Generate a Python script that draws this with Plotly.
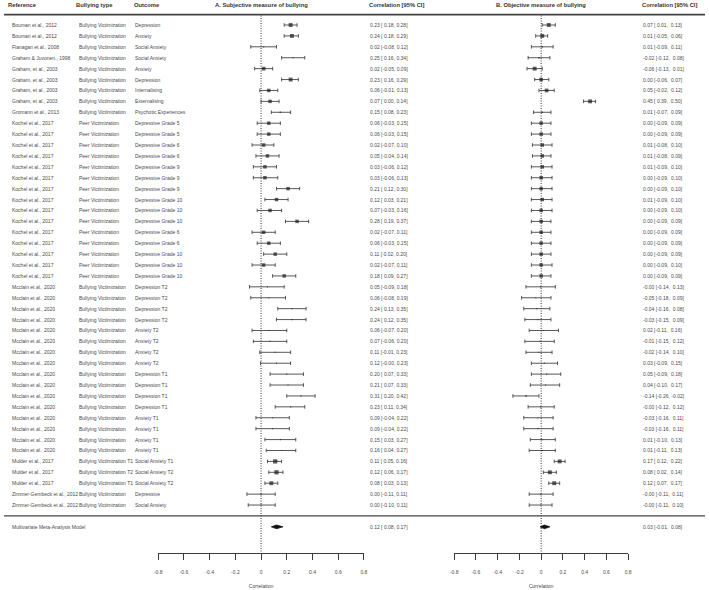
import math
import plotly.graph_objects as go

references = [
    "Bouman et al., 2012", "Bouman et al., 2012", "Flanagan et al., 2008",
    "Graham & Juvonen., 1998", "Graham, et al., 2003", "Graham, et al., 2003",
    "Graham, et al., 2003", "Graham, et al., 2003", "Gromann et al., 2013",
] + ["Kochel et al., 2017"] * 15 + ["Mcclain et al., 2020"] * 16 + [
    "Mulder et al., 2017", "Mulder et al., 2017", "Mulder et al., 2017",
    "Zimmer-Gembeck et al., 2012", "Zimmer-Gembeck et al., 2012",
]

bullying_types = (["Bullying Victimization"] * 9 + ["Peer Victimization"] * 15
                  + ["Bullying Victimization"] * 16
                  + ["Bullying Victimization T1", "Bullying Victimization T2",
                     "Bullying Victimization T1", "Bullying Victimization",
                     "Bullying Victimization"])

outcomes = [
    "Depression", "Anxiety", "Social Anxiety", "Social Anxiety", "Anxiety",
    "Depression", "Internalising", "Externalising", "Psychotic Experiences",
    "Depressive Grade 5", "Depressive Grade 5", "Depressive Grade 6",
    "Depressive Grade 6", "Depressive Grade 9", "Depressive Grade 9",
    "Depressive Grade 9", "Depressive Grade 10", "Depressive Grade 10",
    "Depressive Grade 10", "Depressive Grade 6", "Depressive Grade 6",
    "Depressive Grade 10", "Depressive Grade 10", "Depressive Grade 10",
    "Depression T2", "Depression T2", "Depression T2", "Depression T2",
    "Anxiety T2", "Anxiety T2", "Anxiety T2", "Anxiety T2",
    "Depression T1", "Depression T1", "Depression T1", "Depression T1",
    "Anxiety T1", "Anxiety T1", "Anxiety T1", "Anxiety T1",
    "Social Anxiety T1", "Social Anxiety T2", "Social Anxiety T2",
    "Depressive", "Social Anxiety",
]

# A. Subjective measure of bullying
est_a = [0.23, 0.24, 0.02, 0.25, 0.02, 0.23, 0.06, 0.07, 0.15,
         0.06, 0.06, 0.02, 0.05, 0.03, 0.03, 0.21, 0.12, 0.07, 0.28, 0.02,
         0.06, 0.11, 0.02, 0.18,
         0.05, 0.06, 0.24, 0.24, 0.06, 0.07, 0.11, 0.12,
         0.20, 0.21, 0.31, 0.23, 0.09, 0.09, 0.15, 0.16,
         0.11, 0.12, 0.08, 0.00, 0.00]
lo_a = [0.18, 0.18, -0.08, 0.16, -0.05, 0.16, -0.01, 0.00, 0.08,
        -0.03, -0.03, -0.07, -0.04, -0.06, -0.06, 0.12, 0.03, -0.03, 0.19, -0.07,
        -0.03, 0.02, -0.07, 0.09,
        -0.09, -0.08, 0.13, 0.12, -0.07, -0.06, -0.01, -0.004,
        0.07, 0.07, 0.20, 0.11, -0.04, -0.04, 0.03, 0.04,
        0.05, 0.06, 0.03, -0.11, -0.10]
hi_a = [0.28, 0.29, 0.12, 0.34, 0.09, 0.29, 0.13, 0.14, 0.23,
        0.15, 0.15, 0.10, 0.14, 0.12, 0.13, 0.30, 0.21, 0.16, 0.37, 0.11,
        0.15, 0.20, 0.11, 0.27,
        0.18, 0.19, 0.35, 0.35, 0.20, 0.20, 0.23, 0.23,
        0.33, 0.33, 0.42, 0.34, 0.22, 0.22, 0.27, 0.27,
        0.16, 0.17, 0.13, 0.11, 0.11]
weight_a = [9, 9, 0.5, 0.5, 8, 9, 7, 7, 1.0,
            7, 7, 7, 7, 7, 7, 7, 7, 7, 7, 7, 7, 7, 7, 7,
            0.5, 0.5, 0.5, 0.5, 0.5, 0.5, 0.5, 0.5,
            0.5, 0.5, 0.5, 0.5, 0.5, 0.5, 0.5, 0.5,
            11, 11, 9, 0.5, 0.5]

# B. Objective measure of bullying
est_b = [0.07, 0.01, 0.01, -0.02, -0.06, 0.00, 0.05, 0.45, 0.01,
         0.00, 0.00, 0.01, 0.01, 0.01, 0.00, 0.00, 0.01, 0.00, 0.00, 0.00,
         0.00, 0.00, 0.00, 0.00,
         -0.004, -0.05, -0.04, -0.03, 0.02, -0.01, -0.02, 0.03,
         0.05, 0.04, -0.14, -0.004, -0.03, -0.03, 0.01, 0.01,
         0.17, 0.08, 0.12, -0.004, -0.004]
lo_b = [0.01, -0.05, -0.09, -0.12, -0.13, -0.06, -0.02, 0.39, -0.07,
        -0.09, -0.09, -0.08, -0.08, -0.09, -0.09, -0.09, -0.09, -0.09, -0.09, -0.09,
        -0.09, -0.09, -0.09, -0.09,
        -0.14, -0.18, -0.16, -0.15, -0.11, -0.15, -0.14, -0.09,
        -0.09, -0.10, -0.26, -0.12, -0.16, -0.16, -0.10, -0.11,
        0.12, 0.02, 0.07, -0.11, -0.11]
hi_b = [0.13, 0.06, 0.11, 0.08, 0.01, 0.07, 0.12, 0.50, 0.09,
        0.09, 0.09, 0.10, 0.09, 0.10, 0.10, 0.10, 0.10, 0.10, 0.09, 0.09,
        0.09, 0.09, 0.10, 0.09,
        0.13, 0.09, 0.08, 0.09, 0.16, 0.12, 0.10, 0.15,
        0.18, 0.17, -0.02, 0.12, 0.11, 0.11, 0.13, 0.13,
        0.22, 0.14, 0.17, 0.11, 0.10]
weight_b = [9, 9, 1.0, 1.0, 9, 8, 8, 9, 1.0,
            7, 7, 7, 7, 7, 7, 7, 7, 7, 7, 7, 7, 7, 7, 7,
            0.5, 0.5, 0.5, 0.5, 0.5, 0.5, 0.5, 0.5,
            0.5, 0.5, 1.0, 0.5, 0.5, 0.5, 0.5, 0.5,
            9, 9, 9, 0.5, 0.5]

summary_label = "Multivariate Meta-Analysis Model"
summary_a = [0.12, 0.08, 0.17]   # est, lower, upper
summary_b = [0.03, -0.01, 0.08]

tick_vals = [-0.8, -0.6, -0.4, -0.2, 0, 0.2, 0.4, 0.6, 0.8]
tick_labels = ["-0.8", "-0.6", "-0.4", "-0.2", "0", "0.2", "0.4", "0.6", "0.8"]

headers = ["Reference", "Bullying type", "Outcome",
           "A. Subjective measure of bullying", "Correlation [95% CI]",
           "B. Objective measure of bullying", "Correlation [95% CI]"]

# ---------------- layout geometry ----------------
W, H = 709, 590
ROW_PX = 10.91
FIRST_ROW_PX = 25.0
AXIS_PX = 553.3
n = len(references)
rows = list(range(1, n + 1))
sep_row = n + 1
sum_row = n + 2


def px_to_row(p):
    return 1 + (p - FIRST_ROW_PX) / ROW_PX


y_top = px_to_row(0)
y_bot = px_to_row(AXIS_PX)
ydom0 = 1 - AXIS_PX / H

FONT = "Liberation Sans, Arial, sans-serif"
TXT = "#4a4a4a"
HDR = "#333333"
LINE = "#3a3a3a"


def fmt(v):
    s = f"{v:.2f}"
    if s.startswith("-"):
        return s
    return "\u00a0" + s


def ci_text_a(e, l, h):
    return f"{e:.2f} [{fmt(l)}, {h:.2f}]"


def ci_text_b(e, l, h):
    return f"{e:.2f} [{fmt(l)}, {fmt(h)}]"


def msize(w):
    return 1.2 * math.sqrt(w) + 0.3


fig = go.Figure()

for xa, est, lo, hi, wt, summ in [("x", est_a, lo_a, hi_a, weight_a, summary_a),
                                  ("x2", est_b, lo_b, hi_b, weight_b, summary_b)]:
    fig.add_trace(go.Scatter(
        x=est, y=rows, xaxis=xa, yaxis="y", mode="markers",
        marker=dict(symbol="square", size=[msize(w) for w in wt], color="#1a1a1a",
                    line=dict(width=0)),
        error_x=dict(type="data", symmetric=False,
                     array=[h - e for e, h in zip(est, hi)],
                     arrayminus=[e - l for e, l in zip(est, lo)],
                     color="#444444", thickness=0.9, width=1.8),
        hoverinfo="skip", showlegend=False, cliponaxis=False,
    ))
    e, l, h = summ
    dh = 0.17
    fig.add_trace(go.Scatter(
        x=[l, e, h, e, l], y=[sum_row, sum_row - dh, sum_row, sum_row + dh, sum_row],
        xaxis=xa, yaxis="y", mode="lines", fill="toself", fillcolor="#111111",
        line=dict(color="#111111", width=0.8), hoverinfo="skip",
        showlegend=False, cliponaxis=False,
    ))

shapes = []
# header & separator lines
shapes.append(dict(type="line", xref="paper", yref="y", x0=0, x1=1,
                   y0=px_to_row(14.6), y1=px_to_row(14.6),
                   line=dict(color="#444444", width=1.6)))
shapes.append(dict(type="line", xref="paper", yref="y", x0=0, x1=1,
                   y0=sep_row, y1=sep_row, line=dict(color="#444444", width=1.2)))
# zero reference lines
for xa in ["x", "x2"]:
    shapes.append(dict(type="line", xref=xa, yref="y", x0=0, x1=0,
                       y0=px_to_row(15.5), y1=y_bot,
                       line=dict(color="#333333", width=1, dash="1px,1.5px"), layer="below"))
fig.update_layout(shapes=shapes)

ann = []


def add_text(xpx, yrow, text, anchor="left", size=5, color=TXT):
    ann.append(dict(x=xpx / W, y=yrow, xref="paper", yref="y", text=text,
                    xanchor=anchor, yanchor="middle", showarrow=False,
                    borderpad=0, borderwidth=0,
                    font=dict(size=size, color=color, family=FONT)))


col_px = [8, 76, 132]
for cx, vals in zip(col_px, [references, bullying_types, outcomes]):
    for r, t in zip(rows, vals):
        add_text(cx, r, t)
for r, e, l, h in zip(rows, est_a, lo_a, hi_a):
    add_text(370, r, ci_text_a(e, l, h))
for r, e, l, h in zip(rows, est_b, lo_b, hi_b):
    add_text(646, r, ci_text_b(e, l, h))
# summary row
add_text(8, sum_row, summary_label)
add_text(370, sum_row, ci_text_a(*summary_a))
add_text(646, sum_row, ci_text_b(*summary_b))
# headers
hdr_y = px_to_row(4.5)
hdr_specs = [(4, "left"), (73, "left"), (131, "left"), (260, "center"),
             (369, "left"), (543.3, "center"), (645, "left")]
for (hx, anc), t in zip(hdr_specs, headers):
    add_text(hx, hdr_y, f"<b>{t}</b>", anchor=anc, size=5.8, color=HDR)

axis_common = dict(range=[-0.8, 0.8], tickvals=tick_vals, ticktext=tick_labels,
                   showline=True, linecolor=LINE, linewidth=1, ticks="outside",
                   ticklen=6, tickwidth=1, tickcolor=LINE, showgrid=False,
                   zeroline=False, ticklabelstandoff=8,
                   tickfont=dict(size=5, color=TXT, family=FONT),
                   title=dict(text="Correlation", standoff=10,
                              font=dict(size=5, color=TXT, family=FONT)),
                   fixedrange=True)

fig.update_layout(
    width=W, height=H, autosize=False,
    margin=dict(l=0, r=0, t=0, b=0),
    paper_bgcolor="white", plot_bgcolor="white",
    xaxis=dict(domain=[156 / W, 364 / W], anchor="y", **axis_common),
    xaxis2=dict(domain=[455.3 / W, 631.3 / W], anchor="y", **axis_common),
    yaxis=dict(domain=[ydom0, 1], range=[y_bot, y_top], visible=False,
               fixedrange=True),
    annotations=ann,
)

fig.write_html("out.html", config={"displayModeBar": False},
               post_script="document.body.style.margin='0';document.body.style.overflow='hidden';")
